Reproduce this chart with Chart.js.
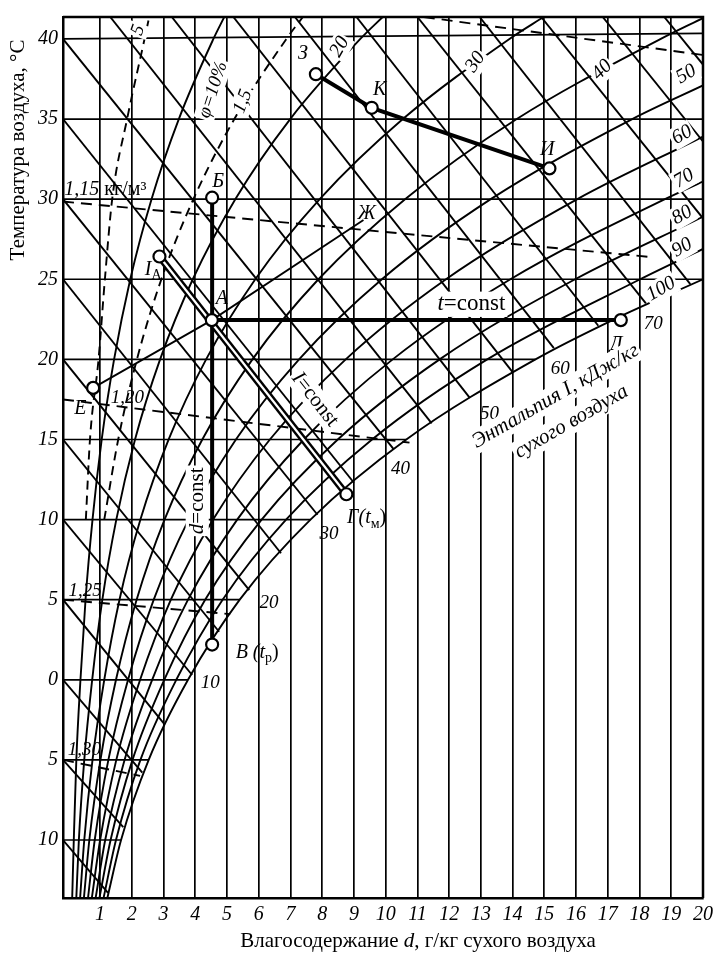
<!DOCTYPE html>
<html><head><meta charset="utf-8">
<script src="https://cdn.jsdelivr.net/npm/chart.js@4.4.0/dist/chart.umd.min.js"></script>
<style>html,body{margin:0;padding:0;background:#fff;}#wrap{width:718px;height:961px;}</style>
</head><body><div id="wrap"><canvas id="c" width="718" height="961"></canvas></div>
<script>
// ---------- axis ticks ----------
const dTicks = [1,2,3,4,5,6,7,8,9,10,11,12,13,14,15,16,17,18,19,20];
const tTicks = [-10,-5,0,5,10,15,20,25,30,35,40];

// ---------- relative humidity curves [d, t] ----------
const phi10 = [[0.12,-13.6],[0.17,-10],[0.25,-5],[0.38,0],[0.54,5],[0.76,10],[1.05,15],[1.44,20],[1.95,25],[2.62,30],[3.48,35],[4.57,40],[4.92,41.4]];
const phi20 = [[0.25,-13.6],[0.33,-10],[0.5,-5],[0.75,0],[1.07,5],[1.51,10],[2.1,15],[2.89,20],[3.92,25],[5.26,30],[6.99,35],[9.2,40],[9.92,41.4]];
const phi30 = [[0.37,-13.6],[0.5,-10],[0.76,-5],[1.13,0],[1.61,5],[2.27,10],[3.16,15],[4.34,20],[5.89,25],[7.92,30],[10.54,35],[13.9,40],[15.0,41.4]];
const phi40 = [[0.49,-13.6],[0.66,-10],[1.01,-5],[1.5,0],[2.15,5],[3.03,10],[4.22,15],[5.8,20],[7.88,25],[10.61,30],[14.13,35],[18.67,40],[20,41.3]];
const phi50 = [[0.62,-13.6],[0.83,-10],[1.26,-5],[1.88,0],[2.69,5],[3.79,10],[5.28,15],[7.27,20],[9.88,25],[13.31,30],[17.77,35],[20,37.1]];
const phi60 = [[0.74,-13.6],[1.0,-10],[1.51,-5],[2.26,0],[3.23,5],[4.56,10],[6.35,15],[8.74,20],[11.9,25],[16.04,30],[20,33.9]];
const phi70 = [[0.86,-13.6],[1.16,-10],[1.77,-5],[2.64,0],[3.77,5],[5.32,10],[7.42,15],[10.22,20],[13.93,25],[18.8,30],[20,31.1]];
const phi80 = [[0.98,-13.6],[1.33,-10],[2.02,-5],[3.02,0],[4.31,5],[6.09,10],[8.49,15],[11.7,20],[15.97,25],[20,28.9]];
const phi90 = [[1.11,-13.6],[1.5,-10],[2.27,-5],[3.4,0],[4.86,5],[6.86,10],[9.57,15],[13.2,20],[18.02,25],[20,26.9]];
const phi100 = [[1.23,-13.6],[1.66,-10],[2.53,-5],[3.77,0],[5.4,5],[7.63,10],[10.65,15],[14.72,20],[17.2,22.5],[20,25.0]];
// dashed curves (5 % and 15 %)
const phi5dash = [[0.55,10],[0.68,15],[0.95,20],[1.15,25],[1.38,30],[1.85,35],[2.4,40],[2.55,41.4]];
const phi15dash = [[1.13,10],[1.57,15],[2.16,20],[2.93,25],[3.94,30],[5.23,35],[6.87,40],[7.4,41.4]];

// ---------- enthalpy lines [d0, t0, d1, t1] ----------
const enthalpyLines = [
 [-0.17,-10,1.25,-13.3],[-0.17,-5,1.73,-9.2],[-0.17,0,2.33,-5.8],[-0.17,5,3.0,-2.7],
 [-0.17,10,3.9,0.3],[-0.17,15,4.75,3.0],[-0.17,20,5.7,5.6],[-0.17,25,6.7,7.9],
 [-0.17,30,7.85,10.3],[-0.17,35,9.0,12.3],[-0.17,40,10.25,14.4],
 [1.32,41.37,11.45,16.0],[3.26,41.37,12.65,17.6],[5.2,41.37,14.0,19.2],[7.14,41.37,15.3,20.7],
 [9.08,41.37,16.7,22.1],[11.0,41.37,18.2,23.5],[12.96,41.37,19.6,24.7],
 [14.9,41.37,20,28.8],[16.84,41.37,20,33.6],[18.78,41.37,20,38.4]
];
// ---------- isotherms [t start, d end, t end] ----------
const isotherms = [[-10,1.66,-10],[-5,2.53,-5],[0,3.77,0],[5,5.4,5],[10,7.63,10],[15,10.65,15],[20,14.72,20],[25,20,25],[30,20,30],[35,20,35],[40,20,40.35]];
// ---------- density lines (dashed) [d0,t0,d1,t1] ----------
const densityLines = [[11.2,41.37,20,39.0],[-0.17,29.85,18.3,26.4],[-0.17,17.5,10.75,14.8],[-0.17,5.0,5.1,4.1],[-0.17,-5.0,2.26,-6.0]];

// ---------- process points ----------
const ptB  = [4.53,30.09];   // Б
const ptA  = [4.52,22.45];   // А
const ptV  = [4.53,2.2];     // В
const ptIA = [2.87,26.42];   // I_A
const ptG  = [8.76,11.58];   // Г
const ptD  = [17.41,22.45];  // Д
const ptE  = [0.78,18.22];   // Е
const ptZh = [9.3,28.7];     // Ж
const ptZ  = [7.8,37.8];     // З
const ptK  = [9.56,35.7];    // К
const ptI  = [15.16,31.92];  // И

const P = a => ({x:a[0], y:a[1]});
const curve = (arr) => arr.map(P);
const datasets = [];
datasets.push({data:[ptB,ptA,ptV,ptIA,ptG,ptD,ptE,ptZ,ptK,ptI].map(P), showLine:false, pointRadius:6, pointBorderWidth:2.2,
  pointBackgroundColor:'#fff', pointBorderColor:'#000', order:0});
datasets.push({data:[ptIA,ptG].map(P), showLine:true, borderColor:'#fff', borderWidth:2.2, pointRadius:0, order:1});
const thick = {showLine:true, borderColor:'#000', pointRadius:0, order:2};
datasets.push(Object.assign({data:[ptIA,ptG].map(P), borderWidth:7}, thick));
datasets.push(Object.assign({data:[ptB,ptV].map(P), borderWidth:4}, thick));
datasets.push(Object.assign({data:[ptA,ptD].map(P), borderWidth:4}, thick));
datasets.push(Object.assign({data:[ptZ,ptK,ptI].map(P), borderWidth:4}, thick));
datasets.push({data:[ptE,ptA,ptZh].map(P), showLine:true, borderColor:'#000', borderWidth:1.8, pointRadius:0, order:3});
[phi10,phi20,phi30,phi40,phi50,phi60,phi70,phi80,phi90,phi100].forEach(c=>{
  datasets.push({data:curve(c), showLine:true, borderColor:'#000', borderWidth:1.9, pointRadius:0, cubicInterpolationMode:'monotone', clip:0, order:5});
});
[phi5dash,phi15dash].forEach(c=>{
  datasets.push({data:curve(c), showLine:true, borderColor:'#000', borderWidth:1.9, borderDash:[9,6], pointRadius:0, cubicInterpolationMode:'monotone', clip:0, order:5});
});
enthalpyLines.forEach(l=>{
  datasets.push({data:[{x:l[0],y:l[1]},{x:l[2],y:l[3]}], showLine:true, borderColor:'#000', borderWidth:1.9, pointRadius:0, clip:0, order:5});
});
isotherms.forEach(l=>{
  datasets.push({data:[{x:-0.17,y:l[0]},{x:l[1],y:l[2]}], showLine:true, borderColor:'#000', borderWidth:1.7, pointRadius:0, clip:0, order:5});
});
densityLines.forEach(l=>{
  datasets.push({data:[{x:l[0],y:l[1]},{x:l[2],y:l[3]}], showLine:true, borderColor:'#000', borderWidth:1.9, borderDash:[11,7], pointRadius:0, clip:0, order:5});
});

// ---------- text labels: [segments, d, t, rotation, size, align, whiteBg] ----------
const labels = [
 [[['Б','i']],4.72,31.09,0,20],
 [[['I','i'],['А','sub']],2.67,25.6,0,20],
 [[['А','i']],4.84,23.8,0,20],
 [[['В (','i'],['t','i'],['р','sub'],[')','n']],5.95,1.7,0,20],
 [[['Г(','i'],['t','i'],['м','sub'],[')','n']],9.4,10.1,0,20],
 [[['Д','i']],17.26,20.9,0,20],
 [[['Е','i']],0.38,16.9,0,20],
 [[['Ж','i']],9.4,29.1,0,20],
 [[['З','i']],7.39,39.06,0,20],
 [[['К','i']],9.81,36.8,0,20],
 [[['И','i']],15.09,33.08,0,20],
 [[['1,15 ','i'],['кг/м³','n']],-0.13,30.6,0,20,'left'],
 [[['1,20','i']],1.86,17.58,0,19],
 [[['1,25','i']],0.53,5.56,0,19],
 [[['1,30','i']],0.5,-4.4,0,19],
 [[['10','i']],4.47,-0.23,0,19],
 [[['20','i']],6.32,4.8,0,19],
 [[['30','i']],8.21,9.1,0,19],
 [[['40','i']],10.47,13.15,0,19],
 [[['50','i']],13.27,16.6,0,19],
 [[['60','i']],15.5,19.4,0,19],
 [[['70','i']],18.43,22.2,0,19],
 [[['50','i']],19.47,37.8,-30,20,'c',true],
 [[['60','i']],19.34,34.0,-30,20,'c',true],
 [[['70','i']],19.4,31.3,-30,20,'c',true],
 [[['80','i']],19.34,29.0,-30,20,'c',true],
 [[['90','i']],19.34,26.97,-30,20,'c',true],
 [[['100','i']],18.68,24.4,-30,20,'c',true],
 [[['40','i']],16.82,38.06,-45,20,'c',true],
 [[['30','i']],12.83,38.56,-55,20,'c',true],
 [[['20','i']],8.55,39.5,-60,20,'c',true],
 [[['φ','i'],['=10%','i']],4.56,36.82,-72,19,'c',true],
 [[['5','i']],2.2,40.55,-70,19,'c',true],
 [[['1,5','i']],5.5,36.1,-70,19,'c',true],
 [[['t','i'],['=const','n']],12.7,23.44,0,23,'c',true],
 [[['I','i'],['=const','n']],7.77,17.5,52,21,'c',true],
 [[['d','i'],['=const','n']],4.06,11.17,-90,21,'c',true],
 [[['Энтальпия I, кДж/кг','i']],15.35,17.7,-30,21,'c',true],
 [[['сухого воздуха','i']],15.85,16.1,-30,21,'c',true]
];

function fontFor(st,size){
  const it = st.indexOf('i')>=0 ? 'italic ' : '';
  const sz = (st==='sub'||st==='sup') ? Math.round(size*0.72) : size;
  return it + sz + 'px "Liberation Serif", "DejaVu Serif", serif';
}
function drawRich(ctx, segs, x, y, size, rot, align, bg){
  ctx.save(); ctx.translate(x,y); ctx.rotate((rot||0)*Math.PI/180);
  let w=0; segs.forEach(([tx,st])=>{ctx.font=fontFor(st,size); w+=ctx.measureText(tx).width;});
  let cx = align==='left'?0:-w/2;
  if(bg){ctx.fillStyle='#fff'; ctx.fillRect(cx-2,-size*0.55,w+4,size*1.1);}
  ctx.textBaseline='middle'; ctx.textAlign='left'; ctx.fillStyle='#000';
  segs.forEach(([tx,st])=>{ctx.font=fontFor(st,size);
    const dy = st==='sub'? size*0.3 : st==='sup'? -size*0.35 : 0;
    ctx.fillText(tx,cx,dy); cx+=ctx.measureText(tx).width;});
  ctx.restore();
}

const decor = {
  id:'decor',
  afterDatasetsDraw(chart){
    const ctx=chart.ctx, a=chart.chartArea, xs=chart.scales.x, ys=chart.scales.y;
    ctx.save(); ctx.strokeStyle='#000'; ctx.lineWidth=2.5;
    ctx.beginPath(); ctx.moveTo(a.left,a.top); ctx.lineTo(a.right,a.top); ctx.lineTo(a.right,a.bottom); ctx.stroke();
    ctx.restore();
    labels.forEach(l=>{
      drawRich(ctx,l[0],xs.getPixelForValue(l[1]),ys.getPixelForValue(l[2]),l[4],l[3],l[5],l[6]);
    });
    drawRich(ctx,[['Влагосодержание ','n'],['d','i'],[', г/кг сухого воздуха','n']],418,941,21,0,'c');
    drawRich(ctx,[['Температура воздуха, °С','n']],18,150,21,-90,'c');
  }
};

new Chart(document.getElementById('c'),{
  type:'scatter',
  data:{datasets},
  options:{
    responsive:false, animation:false, devicePixelRatio:1,
    layout:{padding:{left:0,right:14,top:15,bottom:0}},
    plugins:{legend:{display:false},tooltip:{enabled:false}},
    elements:{line:{tension:0}},
    scales:{
      x:{type:'linear',min:-0.17,max:20,
        afterBuildTicks:s=>{s.ticks=dTicks.map(v=>({value:v}));},
        afterFit:s=>{s.height=63;},
        grid:{display:true,color:'#000',lineWidth:1.7,drawTicks:false},
        border:{display:true,color:'#000',width:2.5},
        ticks:{color:'#000',padding:5,maxRotation:0,autoSkip:false,font:{family:'Liberation Serif',size:20,style:'italic'}}
      },
      y:{type:'linear',min:-13.62,max:41.37,
        afterBuildTicks:s=>{s.ticks=tTicks.map(v=>({value:v}));},
        afterFit:s=>{s.width=63;},
        grid:{display:false,drawTicks:false},
        border:{display:true,color:'#000',width:2.5},
        ticks:{color:'#000',padding:5,callback:v=>String(Math.abs(v)),font:{family:'Liberation Serif',size:20,style:'italic'}}
      }
    }
  },
  plugins:[decor]
});
</script></body></html>
